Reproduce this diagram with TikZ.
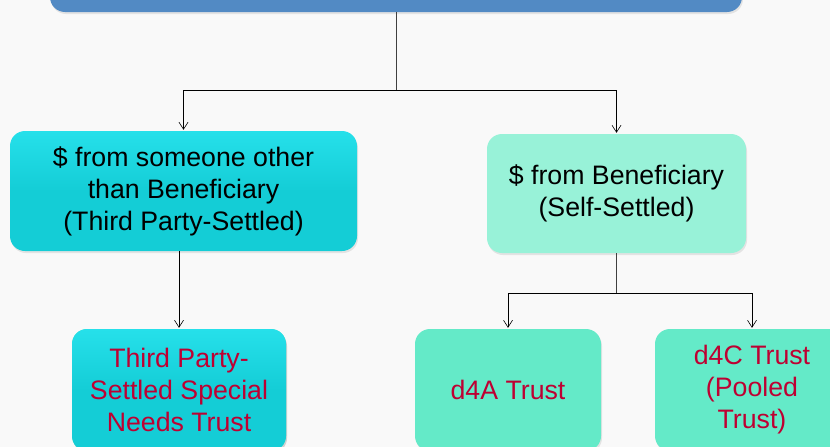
\documentclass[tikz,border=0pt]{standalone}
\usepackage{fontspec}
\setmainfont{Liberation Sans}
\usetikzlibrary{positioning,shadows,arrows.meta}

\definecolor{rootblue}{RGB}{82,138,196}
\definecolor{cyanfill}{RGB}{20,205,214}
\definecolor{cyantop}{RGB}{38,224,234}
\definecolor{mintlight}{RGB}{152,242,216}
\definecolor{mintfill}{RGB}{100,234,200}
\definecolor{trustred}{RGB}{190,0,50}

\begin{document}
\begin{tikzpicture}[x=1pt,y=-1pt,
    box/.style={rounded corners=15pt, align=center, inner sep=0pt,
        font=\fontsize{26.7}{32}\selectfont,
        drop shadow={opacity=0.18, shadow xshift=1pt, shadow yshift=-2pt}},
    thirdbox/.style={box, top color=cyantop, bottom color=cyanfill, middle color=cyanfill},
    selfbox/.style={box, fill=mintlight},
    trustbox/.style={box, fill=mintfill, text=trustred},
    link/.style={draw=black!75, line width=0.9pt},
    arr/.style={draw=black, line width=0.6pt, -{Straight Barb[length=7pt,width=9pt]}, shorten >=1pt}]

    \useasboundingbox (0,0) rectangle (830,447);
    \fill[gray!5] (0,0) rectangle (830,447);
    \clip (0,0) rectangle (830,447);

    % -------------------------------
    % top
    % -------------------------------
    \node[box, fill=rootblue, minimum width=692pt, minimum height=64pt] (rootbox) at (396,-20) {};

    % -------------------------------
    % second row
    % -------------------------------
    \node[thirdbox, minimum width=347pt, minimum height=120pt] (thirdparty) at (183.5,191)
        {\$ from someone other\\than Beneficiary\\(Third Party-Settled)};
    \node[selfbox, minimum width=259pt, minimum height=119pt] (selfsettled) at (616.5,193.5)
        {\$ from Beneficiary\\(Self-Settled)};

    % -------------------------------
    % third row
    % -------------------------------
    \node[trustbox, thirdbox, text=trustred, minimum width=214pt, minimum height=122pt] (tpsnt) at (179,390)
        {Third Party-\\Settled Special\\Needs Trust};
    \node[trustbox, minimum width=186pt, minimum height=122pt] (dfourA) at (508,390) {d4A Trust};
    \node[trustbox, minimum width=194pt, minimum height=122pt] (dfourC) at (752,390)
        {d4C Trust\\(Pooled\\Trust)};

    % connectors
    \coordinate (splitTop) at (396,90);
    \coordinate (splitSelf) at (616.5,293);
    \draw[link] (rootbox.south) -- (splitTop);
    \draw[arr] (splitTop) -| (thirdparty.north);
    \draw[arr] (splitTop) -| (selfsettled.north);
    \draw[arr] (thirdparty.south -| tpsnt.north) -- (tpsnt.north);
    \draw[link] (selfsettled.south) -- (splitSelf);
    \draw[arr] (splitSelf) -| (dfourA.north);
    \draw[arr] (splitSelf) -| (dfourC.north);

\end{tikzpicture}
\end{document}
